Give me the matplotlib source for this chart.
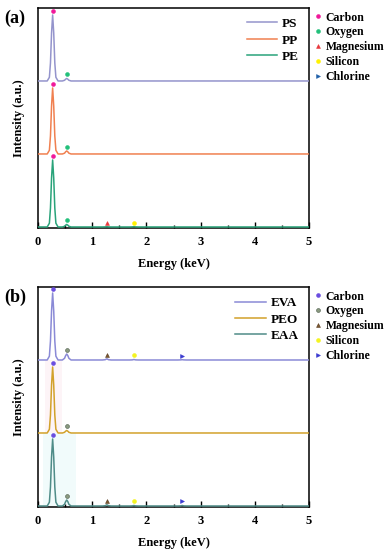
import matplotlib
matplotlib.use("Agg")
import matplotlib.pyplot as plt
from matplotlib.lines import Line2D
import numpy as np

plt.rcParams["font.family"] = ["Liberation Serif", "DejaVu Serif"]
plt.rcParams["font.weight"] = "bold"

energy = [0.00, 0.17, 0.21, 0.23, 0.25, 0.27, 0.29, 0.31, 0.33, 0.37,
          0.45, 0.49, 0.51, 0.53, 0.55, 0.57, 0.61,
          1.19, 1.24, 1.27, 1.30, 1.35,
          1.69, 1.74, 1.77, 1.80, 1.85,
          2.58, 2.63, 2.66, 2.69, 2.74, 5.00]

# panel (a)
ps = [0, 0, 3.7, 18, 48, 66, 48, 18, 3.7, 0,
      0, 0.7, 1.8, 2.5, 1.8, 0.7, 0,
      0, 0, 0, 0, 0,
      0, 0, 0, 0, 0,
      0, 0, 0, 0, 0, 0]
pp = [0, 0, 3.7, 18, 48, 66, 48, 18, 3.7, 0,
      0, 0.8, 2.2, 3.0, 2.2, 0.8, 0,
      0, 0, 0, 0, 0,
      0, 0, 0, 0, 0,
      0, 0, 0, 0, 0, 0]
pe = [0, 0, 3.8, 19, 49, 67, 49, 19, 3.8, 0,
      0, 0.7, 1.8, 2.5, 1.8, 0.7, 0,
      0, 0.1, 0.3, 0.1, 0,
      0, 0.1, 0.3, 0.1, 0,
      0, 0, 0, 0, 0, 0]

# panel (b)
eva = [0, 0, 3.8, 19, 49, 67, 49, 19, 3.8, 0,
       0, 1.7, 4.4, 6.0, 4.4, 1.7, 0,
       0, 0.3, 1.2, 0.3, 0,
       0, 0.1, 0.5, 0.1, 0,
       0, 0.1, 0.3, 0.1, 0, 0]
peo = [0, 0, 3.7, 18, 48, 66, 48, 18, 3.7, 0,
       0, 0.7, 1.8, 2.5, 1.8, 0.7, 0,
       0, 0, 0, 0, 0,
       0, 0, 0, 0, 0,
       0, 0, 0, 0, 0, 0]
eaa = [0, 0, 3.8, 19, 49, 67, 49, 19, 3.8, 0,
       0, 1.7, 4.4, 6.0, 4.4, 1.7, 0,
       0, 0.3, 1.2, 0.3, 0,
       0, 0.1, 0.5, 0.1, 0,
       0, 0.1, 0.5, 0.1, 0, 0]

elements = ["Carbon", "Oxygen", "Magnesium", "Silicon", "Chlorine"]
element_energy = [0.27, 0.53, 1.27, 1.77, 2.66]

# which elements are flagged on each spectrum
marks_a = {"PS": ["Carbon", "Oxygen"],
           "PP": ["Carbon", "Oxygen"],
           "PE": ["Carbon", "Oxygen", "Magnesium", "Silicon"]}
marks_b = {"EVA": elements,
           "PEO": ["Carbon", "Oxygen"],
           "EAA": elements}

offsets = [147, 74, 1]   # stacking, top to bottom
pad = 4

shapes = {"Carbon": "o", "Oxygen": "o", "Magnesium": "^",
          "Silicon": "o", "Chlorine": ">"}
marker_colors_a = {"Carbon": "#f0189a", "Oxygen": "#22c07a", "Magnesium": "#e8383c",
                   "Silicon": "#fff200", "Chlorine": "#1f5fa8"}
marker_colors_b = {"Carbon": "#6a4ce0", "Oxygen": "#8a9a80", "Magnesium": "#7a5a30",
                   "Silicon": "#f4f420", "Chlorine": "#3a3ad0"}
marker_edges_b = {"Carbon": "#6a4ce0", "Oxygen": "#4a5a48", "Magnesium": "#5a3a20",
                  "Silicon": "#f4f420", "Chlorine": "#3a3ad0"}


def draw_panel(ax, names, series, colors, marks, mcolors, medges, tag):
    for name, y, c, off in zip(names, series, colors, offsets):
        y = np.array(y) + off
        ax.plot(energy, y, color=c, lw=1.1, label=name, zorder=3)
        for el in marks[name]:
            e = element_energy[elements.index(el)]
            ym = np.interp(e, energy, y) + pad
            ax.plot(e, ym, shapes[el], color=mcolors[el], ms=2.8,
                    mec=medges[el], mew=0.4, zorder=4)

    ax.set_xlim(0, 5)
    ax.set_ylim(0, 220)
    ax.set_yticks([])
    ax.set_xticks(range(6))
    ax.set_xticks(np.arange(0.5, 5, 1), minor=True)
    ax.tick_params(axis="x", which="major", direction="in", length=4, width=1,
                   labelsize=9, pad=6)
    ax.tick_params(axis="x", which="minor", direction="in", length=2.5, width=1)
    for s in ax.spines.values():
        s.set_linewidth(1.1)
    ax.set_xlabel("Energy (keV)", fontsize=9, fontweight="bold", labelpad=7)
    ax.set_ylabel("Intensity (a.u.)", fontsize=9, fontweight="bold", labelpad=9)

    leg1 = ax.legend(loc="upper right", frameon=False, fontsize=9.5,
                     handlelength=2.3, handletextpad=0.4, labelspacing=0.32,
                     borderaxespad=0.55, borderpad=0.2)
    ax.add_artist(leg1)

    handles = [Line2D([], [], ls="none", marker=shapes[el], color=mcolors[el],
                      ms=2.8, mec=medges[el], mew=0.4) for el in elements]
    ax.legend(handles, elements, loc="upper left", bbox_to_anchor=(1.008, 1.0),
              frameon=False, fontsize=8.5, handlelength=0.6, handletextpad=0.3,
              labelspacing=0.24, borderaxespad=0.0, borderpad=0.3)

    ax.figure.text(0.012, ax.get_position().y1 - 0.003, tag, fontsize=13,
                   fontweight="bold", va="top", ha="left")


fig = plt.figure(figsize=(3.85, 5.5), dpi=100)
ax_a = fig.add_axes([0.0987, 0.5855, 0.704, 0.40])
ax_b = fig.add_axes([0.0987, 0.0782, 0.704, 0.40])

# faint shading seen behind the carbon/oxygen peaks in (b)
ax_b.fill_between([0.12, 0.45], 74, 147, color="#fdf4f7", lw=0, zorder=0)
ax_b.fill_between([0.10, 0.70], 0, 74, color="#f1fbfb", lw=0, zorder=0)

draw_panel(ax_a, ["PS", "PP", "PE"], [ps, pp, pe],
           ["#9494cc", "#f08050", "#2aa37a"], marks_a, marker_colors_a,
           marker_colors_a, "(a)")
draw_panel(ax_b, ["EVA", "PEO", "EAA"], [eva, peo, eaa],
           ["#8a8ad6", "#d2a12a", "#4f8c88"], marks_b, marker_colors_b,
           marker_edges_b, "(b)")

fig.savefig("out.png", dpi=100)
